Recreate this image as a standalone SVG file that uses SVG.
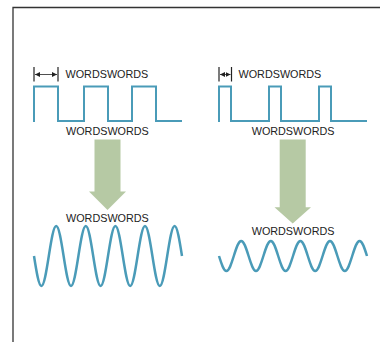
<svg xmlns="http://www.w3.org/2000/svg" width="380" height="342" viewBox="0 0 380 342">
<defs>
<marker id="ah" viewBox="0 0 6 6" refX="6" refY="3" markerWidth="5" markerHeight="5" orient="auto-start-reverse" markerUnits="userSpaceOnUse">
<path d="M0,0 L6,3 L0,6 z" fill="#222"/>
</marker>
<style>
.t{font-family:"Liberation Sans",Arial,sans-serif;font-size:10.8px;fill:#222}
.sq{fill:none;stroke:#4a9bb8;stroke-width:2}
.sn{fill:none;stroke:#4a9bb8;stroke-width:2.5}
.bar{stroke:#222;stroke-width:1.2}
.dim{stroke:#222;stroke-width:0.8}
.arr{fill:#b6c9a4}
</style>
</defs>
<rect width="380" height="342" fill="#fff"/>
<g id="frame">
<path d="M13,342 V7.5 H380" fill="none" stroke="#333" stroke-width="1.3"/>
</g>
<g id="left-square">
<path class="sq" d="M34,122 V86.5 H58 V121 H84 V86.5 H108 V121 H132 V86.5 H156 V121 H182"/>
<line class="bar" x1="34" y1="67" x2="34" y2="81.5"/>
<line class="bar" x1="58" y1="67" x2="58" y2="81.5"/>
<line class="dim" x1="35" y1="74.5" x2="57" y2="74.5" marker-start="url(#ah)" marker-end="url(#ah)"/>
<text class="t" x="65.5" y="78.3">WORDSWORDS</text>
<text class="t" x="66" y="135">WORDSWORDS</text>
</g>
<g id="right-square">
<path class="sq" d="M219,122 V86.5 H231 V121 H269 V86.5 H281 V121 H319 V86.5 H331 V121 H367"/>
<line class="bar" x1="219" y1="67" x2="219" y2="81.5"/>
<line class="bar" x1="231.5" y1="67" x2="231.5" y2="81.5"/>
<line class="dim" x1="220" y1="74.5" x2="230.5" y2="74.5" marker-start="url(#ah)" marker-end="url(#ah)"/>
<text class="t" x="238.5" y="78.3">WORDSWORDS</text>
<text class="t" x="251.7" y="135">WORDSWORDS</text>
</g>
<g id="connectors">
<polygon class="arr" points="94.5,139.5 120.5,139.5 120.5,191.5 126,191.5 107.5,210 89,191.5 94.5,191.5"/>
<polygon class="arr" points="279.7,139.5 305.7,139.5 305.7,207.3 311,207.3 292.7,223.5 274.5,207.3 279.7,207.3"/>
</g>
<g id="left-sine">
<text class="t" x="66" y="221.7">WORDSWORDS</text>
<path class="sn" d="M34,256 c2.413,15.37 4.722,30 7.4,30 s4.987,-14.63 7.4,-30 s4.722,-30 7.4,-30 s4.987,14.63 7.4,30 s4.722,30 7.4,30 s4.987,-14.63 7.4,-30 s4.722,-30 7.4,-30 s4.987,14.63 7.4,30 s4.722,30 7.4,30 s4.987,-14.63 7.4,-30 s4.722,-30 7.4,-30 s4.987,14.63 7.4,30 s4.722,30 7.4,30 s4.987,-14.63 7.4,-30 s4.722,-30 7.4,-30 s4.987,14.63 7.4,30 s4.722,30 7.4,30 s4.987,-14.63 7.4,-30 s4.722,-30 7.4,-30 s4.987,14.63 7.4,30"/>
</g>
<g id="right-sine">
<text class="t" x="251.7" y="235">WORDSWORDS</text>
<path class="sn" d="M219,256 c2.413,7.685 4.722,15 7.4,15 s4.987,-7.315 7.4,-15 s4.722,-15 7.4,-15 s4.987,7.315 7.4,15 s4.722,15 7.4,15 s4.987,-7.315 7.4,-15 s4.722,-15 7.4,-15 s4.987,7.315 7.4,15 s4.722,15 7.4,15 s4.987,-7.315 7.4,-15 s4.722,-15 7.4,-15 s4.987,7.315 7.4,15 s4.722,15 7.4,15 s4.987,-7.315 7.4,-15 s4.722,-15 7.4,-15 s4.987,7.315 7.4,15 s4.722,15 7.4,15 s4.987,-7.315 7.4,-15 s4.722,-15 7.4,-15 s4.987,7.315 7.4,15"/>
</g>
</svg>
